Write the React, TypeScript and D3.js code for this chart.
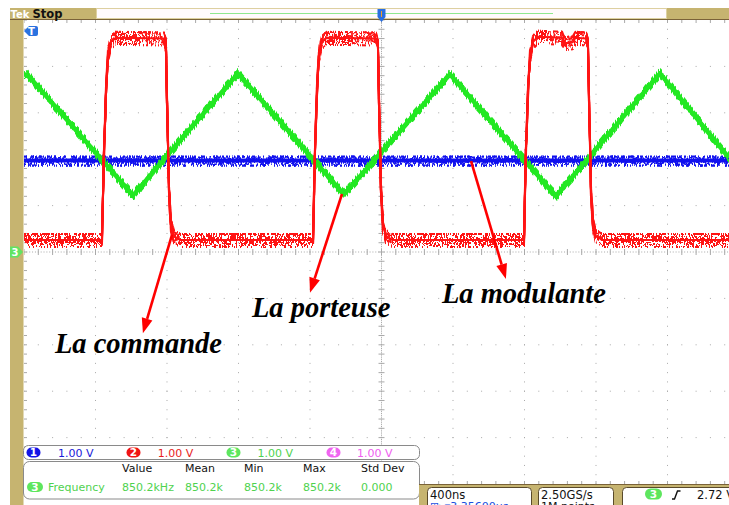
import React from "react";
import * as d3 from "d3";

// ---------- data (time in ns, amplitude in divisions from screen centre) ----------
const timeDomain = [0, 4000]; // 10 div x 400 ns
const divDomain = [-5, 5];

// Channel 1 (blue) – la modulante
const ch1Time = [0, 3944];
const ch1Div = [1.97, 1.97];

// Channel 3 (green) – la porteuse (triangle)
const ch3Time = [0, 17, 610, 1197, 1790, 2383, 2976, 3558, 3944];
const ch3Div = [3.8, 3.83, 1.22, 3.85, 1.24, 3.83, 1.2, 3.85, 2.03];

// Channel 2 (red) – la commande (PWM)
const ch2Time = [
  0, 436, 448, 459, 470, 487, 515, 783, 794, 800, 811, 822, 839, 873,
  1617, 1628, 1639, 1650, 1667, 1695, 1969, 1980, 1986, 1997, 2008, 2025, 2059,
  2797, 2808, 2820, 2831, 2848, 2876, 3010, 3022, 3070, 3085, 3144, 3155, 3161, 3172, 3183, 3200, 3234, 3944,
];
const ch2Div = [
  0.26, 0.26, 2.2, 3.49, 4.25, 4.53, 4.62, 4.6, 4.46, 3.28, 1.34, 0.58, 0.34, 0.26,
  0.26, 2.2, 3.49, 4.25, 4.53, 4.62, 4.6, 4.46, 3.28, 1.34, 0.58, 0.34, 0.26,
  0.26, 2.2, 3.49, 4.25, 4.53, 4.64, 4.62, 4.5, 4.52, 4.62, 4.6, 4.46, 3.28, 1.34, 0.58, 0.34, 0.26, 0.26,
];

// annotations
const labelText = ["La commande", "La porteuse", "La modulante"];
const labelT = [173, 1275, 2338];
const labelV = [-2.18, -1.4, -1.1];
const arrowFromT = [828, 1779, 2501];
const arrowFromV = [0.37, 1.25, 1.96];
const arrowToT = [665, 1600, 2696];
const arrowToV = [-1.75, -0.88, -0.58];

// readouts
const chNums = ["1", "2", "3", "4"];
const chScales = ["1.00 V", "1.00 V", "1.00 V", "1.00 V"];
const measHeaders = ["Value", "Mean", "Min", "Max", "Std Dev"];
const measValues = ["850.2kHz", "850.2k", "850.2k", "850.2k", "0.000"];
const measName = "Frequency";
const measSource = "3";
const horizScale = "400ns";
const horizPos = "3.35600µs";
const sampleRate = "2.50GS/s";
const recordLen = "1M points";
const trigSource = "3";
const trigLevel = "2.72 V";

// ---------- styles ----------
const W = 729;
const H = 505;
const TAN = "#c6b470";
const BROWN = "#7a6238";
const GRID = "#a9a9a9";
const chColors = ["#1414e6", "#f01414", "#5ee65e", "#f064f0"];
const chText = ["#1a1ad8", "#e81c1c", "#4fd24f", "#f05ef0"];
const SANS = "'DejaVu Sans', Verdana, sans-serif";

const xs = d3.scaleLinear().domain(timeDomain).range([24, 739]);
const ys = d3.scaleLinear().domain(divDomain).range([484, 20]);

function zip(t: number[], v: number[]) {
  return t.map((tt, i) => [tt, v[i]] as [number, number]);
}

const line = d3
  .line<[number, number]>()
  .x((d) => xs(d[0]))
  .y((d) => ys(d[1]));

const filterSeeds = [3, 11, 19, 27, 41, 53];

function NoiseFilter({ id, seed, scale, fx }: { id: string; seed: number; scale: number; fx: number }) {
  return (
    <filter id={id} filterUnits="userSpaceOnUse" x={0} y={0} width={W} height={H} colorInterpolationFilters="sRGB">
      <feTurbulence type="fractalNoise" baseFrequency={`${fx} 0.04`} numOctaves={2} seed={seed} result="t" />
      <feColorMatrix in="t" type="matrix" values="0 0 0 0 0.5  0 3 0 0 -1  0 0 0 0 0  0 0 0 0 1" result="m" />
      <feDisplacementMap in="SourceGraphic" in2="m" scale={scale} xChannelSelector="R" yChannelSelector="G" />
    </filter>
  );
}

function Trace({ data, color, core, noisy, prefix, copies }: any) {
  const d = line(data) || "";
  return (
    <g fill="none" stroke={color} strokeLinejoin="round">
      {d3.range(copies).map((k) => (
        <path key={k} d={d} strokeWidth={noisy} filter={`url(#${prefix}${k})`} />
      ))}
      <path d={d} strokeWidth={core} />
    </g>
  );
}

function Pill({ cx, cy, w, h, color, label }: any) {
  return (
    <g>
      <rect x={cx - w / 2} y={cy - h / 2} width={w} height={h} rx={h / 2} fill={color} />
      <text x={cx} y={cy + 3.8} textAnchor="middle" fill="#fff" fontFamily={SANS} fontSize={10.5} fontWeight="bold">
        {label}
      </text>
    </g>
  );
}

export default function App() {
  const x0 = xs(timeDomain[0]);
  const y0 = ys(divDomain[1]);
  const yB = ys(divDomain[0]);
  const xc = xs((timeDomain[0] + timeDomain[1]) / 2);
  const yc = ys(0);

  const majorX = d3.range(1, 10).filter((i) => i !== 5).map((i) => xs(i * 400));
  const majorY = d3.range(-4, 5).filter((j) => j !== 0).map((j) => ys(j));
  const minorYs = d3.range(0, 51).map((k) => ys(-5 + k * 0.2));
  const minorXs = d3.range(0, 51).map((k) => xs(k * 80));
  const fineY = d3.range(0, 251).map((k) => ys(-5 + k * 0.04));
  const fineX = d3.range(0, 251).map((k) => xs(k * 16));

  const arrows = labelText.map((_, i) => {
    const x1 = xs(arrowFromT[i]);
    const y1 = ys(arrowFromV[i]);
    const x2 = xs(arrowToT[i]);
    const y2 = ys(arrowToV[i]);
    const a = Math.atan2(y2 - y1, x2 - x1);
    const L = 15;
    const hw = 5.5;
    const bx = x2 - L * Math.cos(a);
    const by = y2 - L * Math.sin(a);
    const px = -Math.sin(a) * hw;
    const py = Math.cos(a) * hw;
    return { x1, y1, bx, by, x2, y2, head: `M${x2},${y2}L${bx + px},${by + py}L${bx - px},${by - py}Z` };
  });

  return (
    <svg width={W} height={H} style={{ position: "fixed", left: 0, top: 0, background: "#fff" }}>
      <defs>
        {filterSeeds.map((s, k) => (
          <NoiseFilter key={"b" + k} id={"nzB" + k} seed={s} scale={9} fx={0.8 - k * 0.05} />
        ))}
        {filterSeeds.map((s, k) => (
          <NoiseFilter key={"g" + k} id={"nzG" + k} seed={s + 5} scale={8} fx={0.8 - k * 0.05} />
        ))}
        {filterSeeds.map((s, k) => (
          <NoiseFilter key={"r" + k} id={"nzR" + k} seed={s + 2} scale={13} fx={0.9 - k * 0.06} />
        ))}
        <clipPath id="plot">
          <rect x={x0} y={y0} width={W - x0} height={yB - y0} />
        </clipPath>
      </defs>
      <rect x={0} y={0} width={W} height={H} fill="#fff" />

      {/* graticule */}
      <g clipPath="url(#plot)">
        {majorX.map((X, i) => (
          <g key={"vx" + i} fill={GRID}>
            {minorYs.map((Y, k) => (
              <rect key={k} x={X - 0.5} y={Y - 0.5} width={1} height={1} />
            ))}
          </g>
        ))}
        {majorY.map((Y, i) => (
          <g key={"hy" + i} fill={GRID}>
            {minorXs.map((X, k) => (
              <rect key={k} x={X - 0.5} y={Y - 0.5} width={1} height={1} />
            ))}
          </g>
        ))}
        <g fill={GRID}>
          {fineY.map((Y, k) => (
            <rect key={"fy" + k} x={xc - 0.5} y={Y - 0.5} width={1} height={1} />
          ))}
          {fineX.map((X, k) => (
            <rect key={"fx" + k} x={X - 0.5} y={yc - 0.5} width={1} height={1} />
          ))}
        </g>
        <g stroke={GRID} strokeWidth={1}>
          {minorYs.map((Y, k) => (
            <line key={"cty" + k} x1={xc - 3} x2={xc + 3} y1={Y} y2={Y} />
          ))}
          {minorXs.map((X, k) => (
            <line key={"ctx" + k} x1={X} x2={X} y1={yc - 3} y2={yc + 3} />
          ))}
          {minorXs.map((X, k) => (
            <line key={"tt" + k} x1={X} x2={X} y1={y0} y2={y0 + 3} />
          ))}
          {minorXs.map((X, k) => (
            <line key={"bt" + k} x1={X} x2={X} y1={yB - 3} y2={yB} />
          ))}
          {minorYs.map((Y, k) => (
            <line key={"lt" + k} x1={x0} x2={x0 + 3} y1={Y} y2={Y} />
          ))}
        </g>
      </g>

      {/* traces */}
      <g clipPath="url(#plot)">
        <Trace data={zip(ch1Time, ch1Div)} color="#1010ee" core={4} noisy={2.2} prefix="nzB" copies={4} />
        <Trace data={zip(ch3Time, ch3Div)} color="#22e822" core={4.5} noisy={2.4} prefix="nzG" copies={4} />
        <Trace data={zip(ch2Time, ch2Div)} color="#ff1414" core={2} noisy={2} prefix="nzR" copies={6} />
      </g>

      {/* annotations */}
      <g>
        {arrows.map((a, i) => (
          <g key={"ar" + i}>
            <line x1={a.x1} y1={a.y1} x2={a.bx} y2={a.by} stroke="#ff0000" strokeWidth={2.6} />
            <path d={a.head} fill="#ff0000" />
          </g>
        ))}
        {labelText.map((t, i) => (
          <text
            key={"lb" + i}
            x={xs(labelT[i])}
            y={ys(labelV[i])}
            fontFamily="'Liberation Serif', 'Times New Roman', serif"
            fontStyle="italic"
            fontWeight="bold"
            fontSize={28.5}
            fill="#000"
          >
            {t}
          </text>
        ))}
      </g>

      {/* frame: top bar and left border */}
      <rect x={10} y={8} width={W - 10} height={11.5} fill={TAN} />
      <rect x={10} y={8} width={13.5} height={H - 8} fill={TAN} />
      <line x1={10} x2={W} y1={19.5} y2={19.5} stroke={BROWN} strokeWidth={1} />
      <text x={10.5} y={17.6} fill="#fff" fontFamily={SANS} fontWeight="bold" fontSize={10}>
        Tek
      </text>
      <text x={32.5} y={17.6} fill="#111" fontFamily={SANS} fontWeight="bold" fontSize={11.5}>
        Stop
      </text>
      <rect x={96.5} y={8.5} width={570} height={10} fill="#fffafd" stroke="#ddd0a0" strokeWidth={1} />
      <line x1={210} x2={553} y1={13.5} y2={13.5} stroke="#8fe88f" strokeWidth={1.2} />
      {/* trigger position marker */}
      <path d={`M${xc - 4},9 h8 v8 l-4,5 l-4,-5 Z`} fill="#2a6fe0" />
      <rect x={xc - 0.5} y={11} width={1} height={6} fill="#f0a030" />

      {/* left markers */}
      <path d="M24,31 l5,-5 h7 a2,2 0 0 1 2,2 v6 a2,2 0 0 1 -2,2 h-7 Z" fill="#2a72e0" />
      <text x={31.5} y={35} textAnchor="middle" fill="#fff" fontFamily={SANS} fontWeight="bold" fontSize={10}>
        T
      </text>
      <path d={`M10,${yc - 5.5} h8 l5,5.5 l-5,5.5 h-8 Z`} fill="#62e462" />
      <text x={15} y={yc + 4} textAnchor="middle" fill="#fff" fontFamily={SANS} fontWeight="bold" fontSize={10}>
        {measSource}
      </text>

      {/* channel scale row */}
      <rect x={23.5} y={445.5} width={396} height={14} rx={5} fill="#fff" stroke="#8a8a8a" />
      {chNums.map((n, i) => (
        <g key={"ch" + i}>
          <Pill cx={33.5 + i * 100} cy={452.5} w={14} h={10} color={chColors[i]} label={n} />
          <text x={58 + i * 99.7} y={457} fill={chText[i]} fontFamily={SANS} fontSize={11}>
            {chScales[i]}
          </text>
        </g>
      ))}

      {/* measurement box */}
      <rect x={23.5} y={461.5} width={396} height={37.5} rx={6} fill="#fff" stroke="#8a8a8a" />
      {measHeaders.map((h, i) => (
        <text key={"mh" + i} x={[122, 185, 244, 303, 361][i]} y={472} fill="#111" fontFamily={SANS} fontSize={11}>
          {h}
        </text>
      ))}
      <Pill cx={35} cy={487} w={16} h={10} color="#5ee65e" label={measSource} />
      <text x={48} y={491} fill={chText[2]} fontFamily={SANS} fontSize={11}>
        {measName}
      </text>
      {measValues.map((v, i) => (
        <text key={"mv" + i} x={[122, 185, 244, 303, 361][i]} y={491} fill={chText[2]} fontFamily={SANS} fontSize={11}>
          {v}
        </text>
      ))}

      {/* bottom status boxes */}
      <rect x={419} y={484} width={W - 419} height={H - 484} fill={TAN} />
      <line x1={419} x2={W} y1={484.5} y2={484.5} stroke={BROWN} strokeWidth={1} />
      <rect x={427.5} y={487.5} width={104} height={30} rx={4} fill="#fff" stroke="#5a4a2a" />
      <rect x={538.5} y={487.5} width={75} height={30} rx={4} fill="#fff" stroke="#5a4a2a" />
      <rect x={622.5} y={487.5} width={120} height={30} rx={4} fill="#fff" stroke="#5a4a2a" />
      <text x={430} y={498.5} fill="#111" fontFamily={SANS} fontSize={11.5}>
        {horizScale}
      </text>
      <text x={430} y={510} fill="#1a50e0" fontFamily={SANS} fontSize={11}>
        {"⊞▸▾" + horizPos}
      </text>
      <text x={541} y={498.5} fill="#111" fontFamily={SANS} fontSize={11.5}>
        {sampleRate}
      </text>
      <text x={541} y={510} fill="#111" fontFamily={SANS} fontSize={11}>
        {recordLen}
      </text>
      <Pill cx={653.5} cy={494} w={17} h={11} color="#5ee65e" label={trigSource} />
      <path d="M672,499 h2.5 l3,-8 h3" fill="none" stroke="#111" strokeWidth={1.4} />
      <text x={697} y={498.5} fill="#111" fontFamily={SANS} fontSize={11.5}>
        {trigLevel}
      </text>
    </svg>
  );
}
